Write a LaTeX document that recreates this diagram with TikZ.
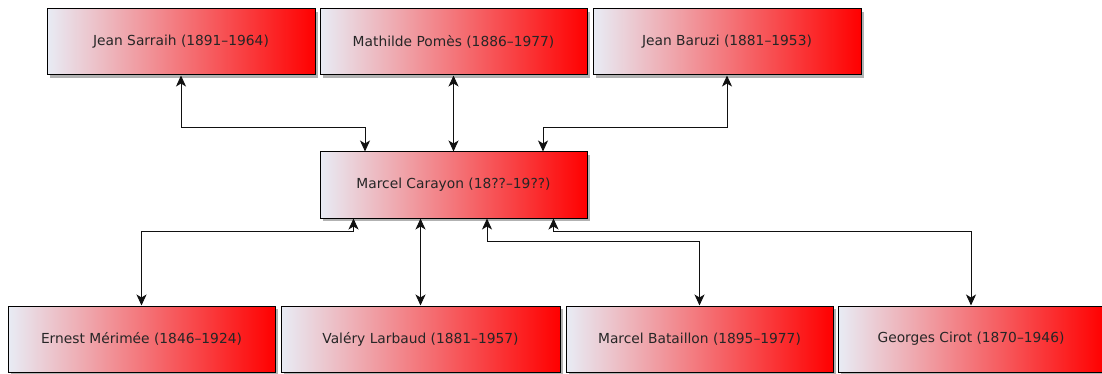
\documentclass[tikz,border=0pt]{standalone}
\usepackage{fontspec}
\setmainfont{DejaVu Sans}
\usetikzlibrary{arrows.meta,shadows}
\definecolor{boxleft}{HTML}{E8ECF5}
\definecolor{boxright}{HTML}{FF0000}
\definecolor{linecol}{HTML}{111111}
\tikzset{
  person/.style={draw=black, line width=1pt, rectangle, minimum height=66pt,
    shading=axis, left color=boxleft, right color=boxright, shading angle=90,
    font=\fontsize{13.8}{16}\selectfont, text=black!85,
    drop shadow={opacity=0.3, shadow xshift=2.5pt, shadow yshift=-3pt, fill=black}},
  link/.style={draw=linecol, line width=1pt,
    {Stealth[length=11pt,width=10pt,inset=3pt]}-{Stealth[length=11pt,width=10pt,inset=3pt]}}
}
\begin{document}
\begin{tikzpicture}[x=1pt,y=-1pt]
\useasboundingbox (0,0) rectangle (1102,374);
% top row
\node[person, minimum width=268pt] (A1) at (181,42) {Jean Sarraih (1891–1964)};
\node[person, minimum width=267pt] (A2) at (453.5,42) {Mathilde Pomès (1886–1977)};
\node[person, minimum width=268pt] (A3) at (727,42) {Jean Baruzi (1881–1953)};
% middle
\node[person, minimum width=267pt] (M) at (453.5,185) {Marcel Carayon (18??–19??)};
% bottom row
\node[person, minimum width=267pt] (B1) at (141.5,339) {Ernest Mérimée (1846–1924)};
\node[person, minimum width=279pt] (B2) at (420.5,339) {Valéry Larbaud (1881–1957)};
\node[person, minimum width=267pt] (B3) at (699.5,339) {Marcel Bataillon (1895–1977)};
\node[person, minimum width=266pt] (B4) at (971,339) {Georges Cirot (1870–1946)};
% top connectors
\draw[link] (A1.south) -- ++(0,52) -| ([xshift=-88.5pt]M.north);
\draw[link] (A2.south) -- (M.north);
\draw[link] (A3.south) -- ++(0,52) -| ([xshift=89.5pt]M.north);
% bottom connectors
\draw[link] ([xshift=-100pt]M.south) -- ++(0,13) -| (B1.north);
\draw[link] (M.south -| B2.north) -- (B2.north);
\draw[link] ([xshift=33.5pt]M.south) -- ++(0,23) -| (B3.north);
\draw[link] ([xshift=100pt]M.south) -- ++(0,13) -| (B4.north);
\end{tikzpicture}
\end{document}
